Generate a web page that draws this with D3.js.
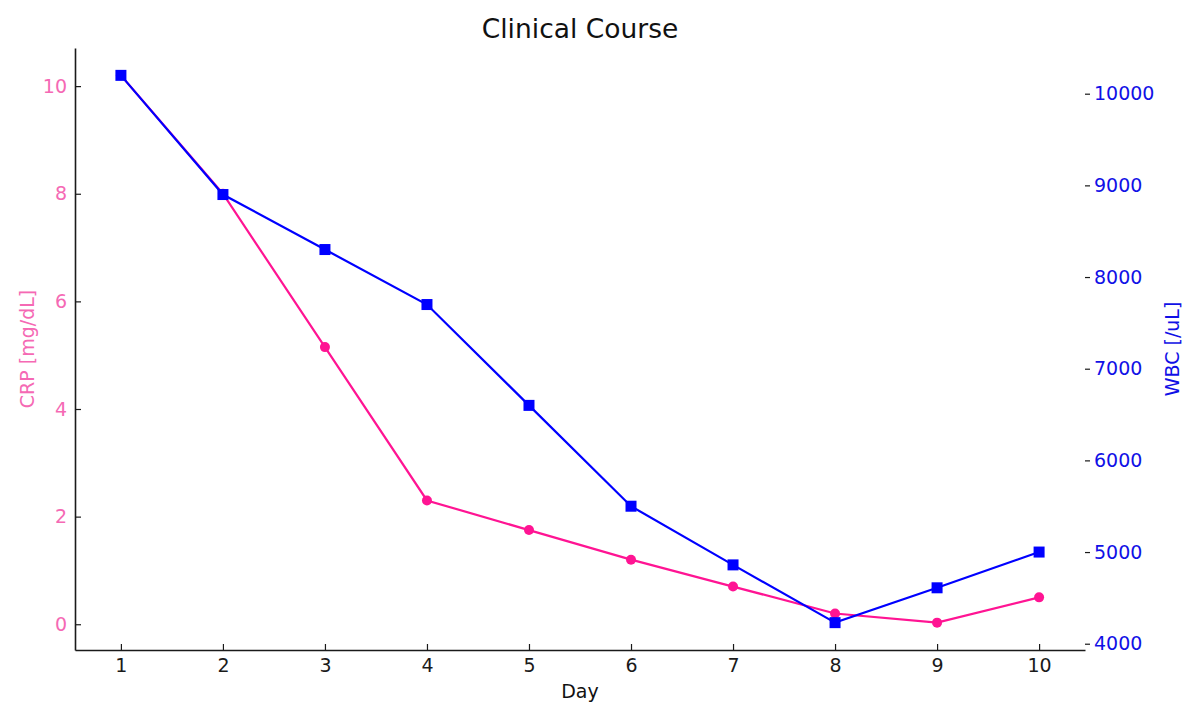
<!DOCTYPE html>
<html>
<head>
<meta charset="utf-8">
<script src="https://cdn.jsdelivr.net/npm/d3@7"></script>
<style>
  body { margin: 0; background: #fff; }
  svg text { font-family: "DejaVu Sans", sans-serif; }
</style>
</head>
<body>
<div id="chart"></div>
<script>
// Daily values
const days = [1, 2, 3, 4, 5, 6, 7, 8, 9, 10];
const crp = [10.2, 8.0, 5.15, 2.3, 1.75, 1.2, 0.7, 0.2, 0.03, 0.5];
const wbc = [10200, 8900, 8300, 7700, 6600, 5500, 4860, 4230, 4610, 5000];
const crpTicks = [0, 2, 4, 6, 8, 10];
const wbcTicks = [4000, 5000, 6000, 7000, 8000, 9000, 10000];

const W = 1200, H = 720;
const margin = { top: 48, right: 115, bottom: 70, left: 75 };
const width = W - margin.left - margin.right;
const height = H - margin.top - margin.bottom;

const crpColor = "#ff1493", crpText = "#f569b4";
const wbcColor = "#0000ff", wbcText = "#1010e6";

// matplotlib-style 5% padding around the data
function padded(vals) {
    const [lo, hi] = d3.extent(vals);
    const p = (hi - lo) * 0.05;
    return [lo - p, hi + p];
}

const svg = d3.select("#chart").append("svg")
    .attr("width", W).attr("height", H);
const g = svg.append("g")
    .attr("transform", `translate(${margin.left},${margin.top})`);

const x = d3.scaleLinear().domain(padded(days)).range([0, width]);
const yL = d3.scaleLinear().domain(padded(crp)).range([height, 0]);
const yR = d3.scaleLinear().domain(padded(wbc)).range([height, 0]);

// Bottom axis, ticks pointing inward
const xAxis = g.append("g")
    .attr("transform", `translate(0,${height})`)
    .call(d3.axisBottom(x).tickValues(days).tickFormat(d3.format("d"))
        .tickSizeInner(-6).tickSizeOuter(0).tickPadding(9));
xAxis.select(".domain").attr("stroke", "#1a1a1a").attr("stroke-width", 1.6);
xAxis.selectAll(".tick line").attr("stroke", "#1a1a1a").attr("stroke-width", 1.2);
xAxis.selectAll("text").attr("font-size", 19).attr("fill", "#1a1a1a");

// Left axis (CRP), ticks inward
const lAxis = g.append("g")
    .call(d3.axisLeft(yL).tickValues(crpTicks).tickFormat(d3.format("d"))
        .tickSizeInner(-6).tickSizeOuter(0).tickPadding(8));
lAxis.select(".domain").attr("stroke", "#1a1a1a").attr("stroke-width", 1.6);
lAxis.selectAll(".tick line").attr("stroke", "#1a1a1a").attr("stroke-width", 1.2);
lAxis.selectAll("text").attr("font-size", 19).attr("fill", crpText);

// Right axis (WBC), no spine
const rAxis = g.append("g")
    .attr("transform", `translate(${width},0)`)
    .call(d3.axisRight(yR).tickValues(wbcTicks).tickFormat(d3.format("d"))
        .tickSizeInner(5).tickSizeOuter(0).tickPadding(4));
rAxis.select(".domain").remove();
rAxis.selectAll(".tick line").attr("stroke", "#1a1a1a").attr("stroke-width", 1.2);
rAxis.selectAll("text").attr("font-size", 19).attr("fill", wbcText);

// CRP series
const crpLine = d3.line().x((d, i) => x(days[i])).y(d => yL(d));
g.append("path").datum(crp)
    .attr("d", crpLine)
    .attr("fill", "none").attr("stroke", crpColor).attr("stroke-width", 2.2);
g.selectAll(".crp-pt").data(crp).enter().append("circle")
    .attr("class", "crp-pt")
    .attr("cx", (d, i) => x(days[i])).attr("cy", d => yL(d))
    .attr("r", 5).attr("fill", crpColor);

// WBC series
const wbcLine = d3.line().x((d, i) => x(days[i])).y(d => yR(d));
g.append("path").datum(wbc)
    .attr("d", wbcLine)
    .attr("fill", "none").attr("stroke", wbcColor).attr("stroke-width", 2.2);
g.selectAll(".wbc-pt").data(wbc).enter().append("rect")
    .attr("class", "wbc-pt")
    .attr("x", (d, i) => x(days[i]) - 5.5).attr("y", d => yR(d) - 5.5)
    .attr("width", 11).attr("height", 11).attr("fill", wbcColor);

// Title and axis labels
svg.append("text")
    .attr("x", margin.left + width / 2).attr("y", 38)
    .attr("text-anchor", "middle").attr("font-size", 26.5).attr("fill", "#111")
    .text("Clinical Course");

svg.append("text")
    .attr("x", margin.left + width / 2).attr("y", 698)
    .attr("text-anchor", "middle").attr("font-size", 19).attr("fill", "#111")
    .text("Day");

svg.append("text")
    .attr("transform", `translate(34,${margin.top + height / 2}) rotate(-90)`)
    .attr("text-anchor", "middle").attr("font-size", 19).attr("fill", crpText)
    .text("CRP [mg/dL]");

svg.append("text")
    .attr("transform", `translate(1179,${margin.top + height / 2}) rotate(-90)`)
    .attr("text-anchor", "middle").attr("font-size", 19).attr("fill", wbcText)
    .text("WBC [/uL]");
</script>
</body>
</html>
